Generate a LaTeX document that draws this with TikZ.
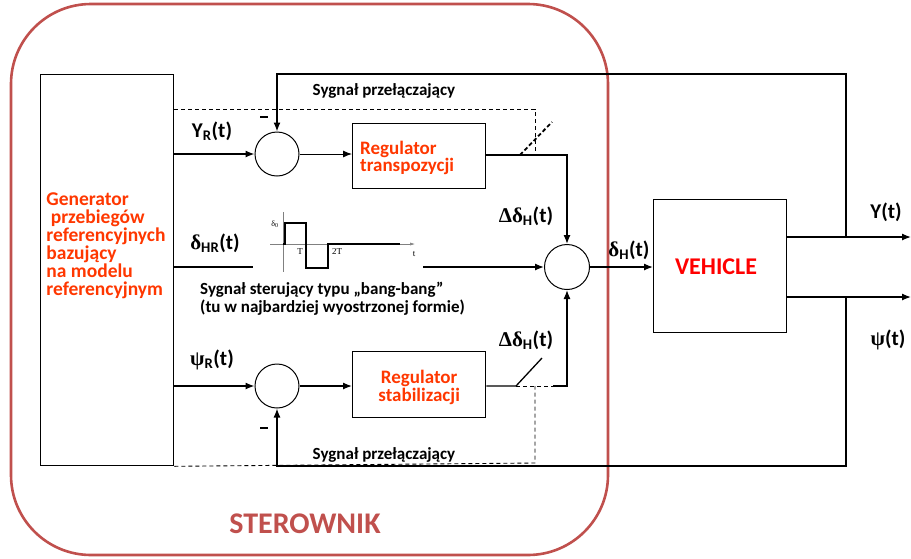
\documentclass[tikz,border=0pt]{standalone}
\usepackage{fontspec}
\setmainfont{Carlito}
\newfontfamily\grk{Liberation Serif}
\usetikzlibrary{arrows.meta, positioning, calc}
\definecolor{SterRed}{RGB}{192, 80, 77}
\definecolor{RegOrange}{RGB}{255, 55, 0}
\definecolor{VehRed}{RGB}{255, 0, 0}
\newcommand\subix[1]{\textsubscript{#1}}

\tikzset{
  blok/.style={draw, line width=1.3pt, inner sep=0pt, anchor=north west},
  sumnode/.style={draw, circle, line width=1pt, inner sep=0pt, minimum size=44pt},
  lbl/.style={font=\fontsize{21}{22}\selectfont\bfseries, inner sep=0pt},
  regtxt/.style={font=\fontsize{19}{16}\selectfont\bfseries, text=RegOrange, align=left, inner sep=0pt},
  smalltxt/.style={font=\fontsize{17}{18}\selectfont\bfseries, inner sep=0pt},
  minus/.style={fill=black, inner sep=0pt, minimum width=8pt, minimum height=2.6pt},
  sig/.style={line width=1.3pt, -{Latex[length=9pt,width=7pt]}},
  wire/.style={line width=1.3pt},
  dsh/.style={line width=0.9pt, dash pattern=on 4pt off 3pt},
}

\begin{document}
\begin{tikzpicture}[x=1pt, y=-1pt]
    \useasboundingbox (0,0) rectangle (911,558);

    % Sterownik
    \draw[SterRed, line width=2.6pt, rounded corners=80pt] (11,4) rectangle (608,555);
    \node[font=\fontsize{30}{32}\selectfont\bfseries, text=SterRed] (ster) at (305,524) {STEROWNIK};

    % Bloki
    \node[blok, minimum width=133pt, minimum height=391pt] (gen) at (40,74) {};
    \node[font=\fontsize{19.5}{18}\selectfont\bfseries, text=RegOrange, align=left, inner sep=0pt]
      (gentxt) at (106,246) {Generator\\ \ przebiegów\\referencyjnych\\bazujący\\na modelu\\referencyjnym};
    \node[blok, minimum width=133pt, minimum height=65pt] (regT) at (352,123) {};
    \node[regtxt, anchor=west] (regTtxt) at (360,158) {Regulator\\transpozycji};
    \node[blok, minimum width=133pt, minimum height=66pt] (regS) at (352,351) {};
    \node[regtxt, align=center] (regStxt) at ([yshift=-3pt]regS.center) {Regulator\\stabilizacji};
    \node[blok, minimum width=133pt, minimum height=133pt] (veh) at (653,199) {};
    \node[font=\fontsize{24}{26}\selectfont\bfseries, text=VehRed] (vehtxt) at (716,267) {VEHICLE};

    % Sumatory
    \node[sumnode] (sY) at (277,154) {};
    \node[sumnode] (sPsi) at (277,386) {};
    \node[sumnode, minimum size=45pt] (sD) at (567,267) {};

    % Punkty pomocnicze
    \coordinate (fbT) at (277,74);
    \coordinate (fbB) at (277,466);
    \coordinate (jY) at (846,237);
    \coordinate (jP) at (846,297);
    \coordinate (yout) at (911,237);
    \coordinate (pout) at (911,297);
    \coordinate (kT) at (567,155);
    \coordinate (kB) at (567,386);
    \coordinate (kB0) at (553,386);
    \coordinate (swT) at (520,155);
    \coordinate (swB) at (516,386);
    \coordinate (dT) at (535,109);
    \coordinate (dB) at (535,463);
    \coordinate (bbA) at (253,267);
    \coordinate (bbB) at (423,267);

    % Tor gorny
    \draw[sig] (gen.east |- sY.west) -- (sY.west);
    \draw[sig, line width=0.9pt] (sY.east) -- (regT.west |- sY.east);
    \draw[sig] (regT.east |- kT) -- (kT) -- (sD.north);
    \draw[line width=1.8pt, dash pattern=on 4pt off 2.5pt] (swT) -- ++(32,-33);
    \draw[dsh] (gen.east |- dT) -- (dT) -- (dT |- kT);

    % Tor srodkowy
    \draw[wire] (gen.east |- sD.west) -- (bbA);
    \draw[sig] (bbB) -- (sD.west);
    \draw[sig] (sD.east) -- (veh.west |- sD.east);

    % Tor dolny
    \draw[sig] (gen.east |- sPsi.west) -- (sPsi.west);
    \draw[sig] (sPsi.east) -- (regS.west |- sPsi.east);
    \draw[wire] (regS.east |- swB) -- (swB) -- ++(26,-28);
    \draw[dsh] (swB) -- (kB0);
    \draw[sig] (kB0) -- (kB) -- (sD.south);
    \draw[dsh] (gen.south east) -- (dB) -- (dB |- swB);

    % Wyjscia i sprzezenia
    \draw[sig] (veh.east |- yout) -- (yout);
    \draw[sig] (veh.east |- pout) -- (pout);
    \draw[sig] (jY) |- (fbT) -- (sY.north);
    \draw[sig] (jP) |- (fbB) -- (sPsi.south);

    % Sygnal bang-bang
    \draw[line width=0.5pt, gray, -{Latex[length=5pt,width=3pt]}] (270,244) -- (415,244);
    \draw[line width=0.5pt, gray] (283,212) -- (283,272);
    \draw[line width=1.8pt] (283,244) -- (285,244) -- (285,223) -- (306,223) -- (306,268)
      -- (328,268) -- (328,244) -- (400,244);
    \node[font=\fontsize{8}{8}\selectfont\grk, inner sep=0pt] (d0) at (275,224) {δ\subix{0}};
    \node[font=\fontsize{9}{9}\selectfont\grk, inner sep=0pt] (tT) at (300,252) {T};
    \node[font=\fontsize{9}{9}\selectfont\grk, inner sep=0pt] (t2T) at (337,252) {2T};
    \node[font=\fontsize{9}{9}\selectfont\grk, inner sep=0pt] (tt) at (414,254) {t};

    % Opisy
    \node[lbl] (lYR) at (212,131) {Y\subix{R}(t)};
    \node[lbl] (lDHR) at (215,243) {{\grk δ}\subix{HR}(t)};
    \node[lbl] (lPR) at (212,360) {{\grk ψ}\subix{R}(t)};
    \node[lbl] (lDHt) at (526,216) {{\grk Δδ}\subix{H}(t)};
    \node[lbl] (lDHb) at (526,340) {{\grk Δδ}\subix{H}(t)};
    \node[lbl] (lDH) at (629,250) {{\grk δ}\subix{H}(t)};
    \node[lbl] (lY) at (886,212) {Y(t)};
    \node[lbl] (lP) at (888,340) {{\grk ψ}(t)};
    \node[minus] (mT) at (264,117) {};
    \node[minus] (mB) at (264,428) {};
    \node[smalltxt] (swTtxt) at (384,91) {Sygnał przełączający};
    \node[smalltxt] (swBtxt) at (384,455) {Sygnał przełączający};
    \node[smalltxt, anchor=west, align=left] (bbtxt) at (200,299)
      {Sygnał sterujący typu „bang-bang”\\(tu w najbardziej wyostrzonej formie)};
\end{tikzpicture}
\end{document}
